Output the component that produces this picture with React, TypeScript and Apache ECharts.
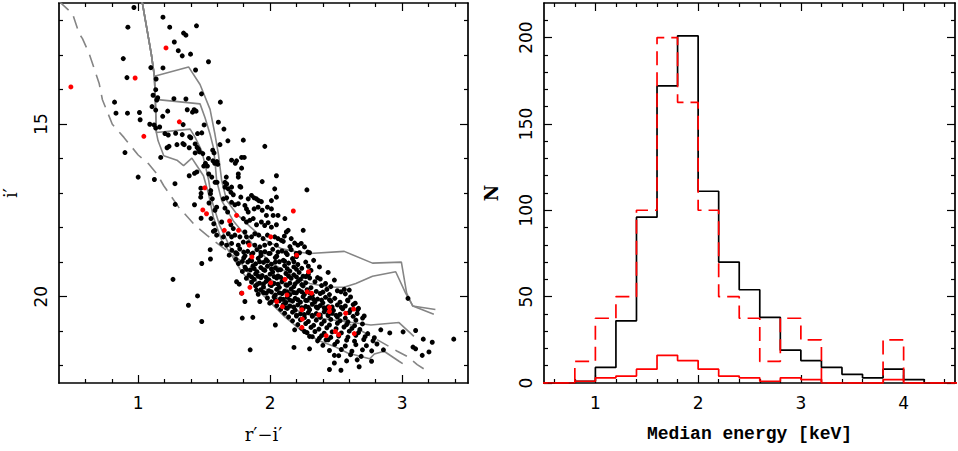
import React, { useEffect, useRef } from "react";
import * as echarts from "echarts";

// ---------------- Left panel: colour–magnitude diagram (r'-i', i') ----------------
const blackStars: number[][] = [
  // bright / upper part
  [0.968, 11.63], [1.188, 11.91], [0.922, 12.2], [1.239, 12.2], [1.442, 12.16], [1.344, 12.37], [1.362, 12.43], [1.274, 12.63],
  [1.304, 12.88], [1.334, 13.03], [1.397, 12.98], [0.887, 13.11], [1.533, 13.2], [1.096, 13.37], [1.188, 13.38], [1.435, 13.44],
  [0.915, 13.66], [1.136, 13.7], [1.133, 14.01], [1.113, 14.17], [1.148, 14.24], [1.141, 14.31], [1.48, 14.13], [1.271, 14.27],
  [1.362, 14.28], [0.821, 14.37], [1.623, 14.37], [1.105, 14.5], [1.133, 14.6], [1.224, 14.63], [1.372, 14.59], [1.424, 14.59],
  [1.439, 14.63], [1.412, 14.66], [0.832, 14.69], [0.919, 14.69], [1.01, 14.67], [1.186, 14.78], [1.015, 14.88], [1.088, 15.01],
  [1.121, 15.03], [1.133, 15.12], [1.163, 15.09], [1.341, 15.02], [1.5, 15.03], [1.608, 14.95], [1.65, 15.15], [1.203, 15.28],
  [1.228, 15.32], [1.284, 15.27], [1.334, 15.31], [1.39, 15.37], [1.399, 15.4], [1.45, 15.28], [1.482, 15.26], [1.68, 15.49],
  [1.797, 15.47], [1.96, 15.65], [1.294, 15.6], [1.339, 15.57], [1.349, 15.6], [1.387, 15.69], [1.432, 15.58], [1.447, 15.68],
  [1.457, 15.73], [1.219, 15.69], [1.234, 15.65], [1.62, 15.6], [0.9, 15.83], [1.432, 15.84], [1.465, 15.81], [1.49, 15.86],
  [1.565, 15.76], [1.575, 15.84], [1.171, 15.97], [1.533, 16.0], [1.51, 16.14], [1.497, 16.22], [1.525, 16.22], [1.567, 16.07],
  [1.58, 16.14], [1.597, 16.09], [1.603, 16.17], [1.708, 16.05], [1.746, 16.07], [1.736, 16.14], [1.784, 15.97], [1.804, 15.97],
  [1.784, 16.28], [1.445, 16.39], [1.427, 16.43], [1.387, 16.5], [1.0, 16.54], [1.123, 16.61], [1.535, 16.45], [1.558, 16.54],
  [1.583, 16.69], [1.598, 16.69], [1.668, 16.54], [1.658, 16.69], [1.671, 16.74], [1.759, 16.45], [1.759, 16.54], [1.771, 16.81],
  [1.94, 16.67], [2.048, 16.5], [2.035, 16.88], [1.279, 16.73], [1.475, 16.86], [1.477, 17.01], [1.55, 16.93], [1.548, 17.02],
  [2.279, 16.91],
  // upper main sequence
  [1.474, 17.12], [1.562, 17.17], [1.658, 16.83], [1.683, 16.88], [1.708, 16.83], [1.703, 16.98], [1.721, 17.05], [1.646, 17.17],
  [1.671, 17.14], [1.778, 16.83], [1.778, 17.12], [1.834, 17.17], [1.859, 17.07], [1.879, 17.14], [1.897, 17.17], [1.914, 17.22],
  [1.934, 17.25], [1.427, 17.34], [1.537, 17.29], [1.708, 17.27], [1.733, 17.34], [1.759, 17.31], [2.01, 17.22], [2.048, 17.12],
  [1.595, 17.41], [1.582, 17.5], [1.658, 17.44], [1.678, 17.55], [1.809, 17.36], [1.821, 17.46], [1.834, 17.55], [1.879, 17.46],
  [1.909, 17.41], [1.94, 17.5], [1.98, 17.41], [2.01, 17.46], [1.972, 17.65], [2.023, 17.65], [2.06, 17.65], [1.477, 17.73],
  [1.552, 17.74], [1.573, 17.89], [1.633, 17.84], [1.703, 17.92], [1.721, 18.03], [1.797, 17.74], [1.821, 17.84], [1.846, 17.79],
  [1.872, 17.74], [1.897, 17.92], [1.934, 17.84], [1.959, 17.94], [1.985, 17.86], [2.01, 17.99], [2.048, 17.92], [1.582, 18.08],
  [1.595, 18.22], [1.646, 18.27], [1.683, 18.18], [1.708, 18.27], [1.733, 18.22], [1.771, 18.27], [1.809, 18.13], [1.821, 18.27],
  [1.859, 18.27], [1.884, 18.18], [1.914, 18.22], [1.947, 18.32], [1.98, 18.22], [2.035, 18.27], [2.06, 18.32], [1.633, 18.46],
  [1.671, 18.51], [1.708, 18.46], [1.759, 18.51], [1.797, 18.42], [1.834, 18.44], [1.884, 18.51], [1.922, 18.56], [1.959, 18.51],
  [1.997, 18.46], [2.048, 18.51],
  [2.112, 17.74], [2.137, 18.08], [2.251, 18.08], [2.16, 18.32], [2.085, 18.37], [2.108, 18.25], [2.123, 18.13], [2.186, 18.45],
  [2.211, 18.51], [2.236, 18.46], [2.261, 18.56], [2.286, 18.71], [2.198, 18.75], [2.223, 18.73], [2.299, 18.73], [2.1, 18.4],
  [2.15, 18.55],
  // scattered stars off the sequence
  [1.281, 17.33], [1.57, 18.11], [1.546, 18.64], [1.548, 18.91], [1.482, 19.04], [1.264, 19.5], [1.45, 19.98], [1.381, 20.25],
  [1.482, 20.72], [1.849, 21.54], [1.789, 20.62], [1.869, 20.6], [2.04, 20.82], [2.181, 21.47], [2.299, 21.51], [1.746, 19.57],
  [1.766, 19.64], [1.784, 19.9], [1.809, 20.14], [1.897, 19.81], [1.922, 20.14], [1.997, 20.19],
  [2.45, 22.11], [2.537, 22.13], [2.487, 21.92], [2.675, 22.03], [2.487, 21.7], [2.186, 20.96], [2.261, 21.01], [2.299, 21.15],
  [2.374, 21.2], [2.424, 21.25],
  [2.839, 20.96], [2.907, 21.05], [3.008, 21.02], [3.103, 20.98], [3.083, 21.46], [3.103, 21.51], [3.161, 21.23], [3.229, 21.32],
  [3.392, 21.23], [3.153, 21.7], [3.204, 21.6], [2.859, 21.54], [2.769, 21.87], [3.045, 20.05],
  [2.374, 19.14], [2.487, 19.52], [2.537, 19.86], [2.562, 19.79], [2.6, 19.81], [2.587, 20.1], [2.645, 20.19], [2.663, 20.38],
  [2.701, 20.62], [2.713, 20.56], [2.33, 18.95], [2.29, 19.12], [2.44, 19.3], [2.36, 19.45],
  // dense lower main sequence
  [1.71, 18.66], [1.77, 18.62], [1.83, 18.69], [1.9, 18.64], [1.96, 18.7], [2.02, 18.63], [2.09, 18.68], [2.16, 18.64],
  [1.69, 18.8], [1.75, 18.76], [1.81, 18.82], [1.86, 18.77], [1.93, 18.81], [2.0, 18.75], [2.05, 18.83], [2.13, 18.78], [2.2, 18.84],
  [1.74, 18.92], [1.8, 18.88], [1.85, 18.94], [1.91, 18.89], [1.97, 18.93], [2.04, 18.87], [2.1, 18.95], [2.17, 18.9],
  [1.76, 19.04], [1.83, 19.0], [1.89, 19.05], [1.95, 19.01], [2.01, 19.06], [2.07, 18.99], [2.14, 19.03], [2.21, 19.07], [2.27, 19.0],
  [1.81, 19.15], [1.87, 19.11], [1.93, 19.16], [1.98, 19.12], [2.04, 19.17], [2.11, 19.1], [2.18, 19.14], [2.24, 19.18],
  [1.79, 19.27], [1.85, 19.23], [1.9, 19.28], [1.96, 19.24], [2.02, 19.29], [2.08, 19.22], [2.15, 19.26], [2.22, 19.3], [2.31, 19.24],
  [1.84, 19.38], [1.89, 19.34], [1.94, 19.39], [2.0, 19.35], [2.06, 19.4], [2.12, 19.33], [2.18, 19.37], [2.25, 19.41], [2.29, 19.35],
  [1.82, 19.47], [1.88, 19.5], [1.93, 19.45], [1.99, 19.51], [2.05, 19.46], [2.1, 19.52], [2.16, 19.47], [2.23, 19.5], [2.3, 19.46], [2.38, 19.49],
  [1.86, 19.58], [1.92, 19.61], [1.97, 19.56], [2.03, 19.62], [2.09, 19.57], [2.15, 19.61], [2.21, 19.56], [2.27, 19.6], [2.34, 19.57], [2.42, 19.62],
  [1.89, 19.69], [1.95, 19.72], [2.01, 19.68], [2.07, 19.73], [2.13, 19.67], [2.18, 19.71], [2.25, 19.69], [2.31, 19.74], [2.39, 19.68], [2.46, 19.71],
  [1.93, 19.8], [1.99, 19.83], [2.05, 19.79], [2.11, 19.84], [2.16, 19.78], [2.22, 19.82], [2.28, 19.8], [2.35, 19.85], [2.43, 19.79], [2.51, 19.83],
  [1.91, 19.93], [1.97, 19.9], [2.04, 19.95], [2.09, 19.91], [2.15, 19.94], [2.2, 19.89], [2.26, 19.93], [2.32, 19.96], [2.38, 19.91], [2.45, 19.94], [2.57, 19.92],
  [1.98, 20.04], [2.03, 20.01], [2.08, 20.06], [2.13, 20.02], [2.19, 20.05], [2.25, 20.0], [2.3, 20.04], [2.36, 20.07], [2.42, 20.02], [2.49, 20.05], [2.61, 20.01],
  [2.01, 20.15], [2.07, 20.12], [2.12, 20.17], [2.17, 20.13], [2.23, 20.16], [2.28, 20.11], [2.34, 20.15], [2.4, 20.18], [2.46, 20.13], [2.53, 20.16], [2.59, 20.12],
  [2.05, 20.26], [2.1, 20.23], [2.15, 20.27], [2.21, 20.24], [2.27, 20.28], [2.32, 20.22], [2.38, 20.26], [2.44, 20.29], [2.51, 20.24], [2.57, 20.27], [2.63, 20.23],
  [2.08, 20.37], [2.13, 20.34], [2.19, 20.39], [2.25, 20.35], [2.3, 20.38], [2.36, 20.33], [2.42, 20.37], [2.48, 20.4], [2.55, 20.35], [2.61, 20.38], [2.67, 20.34],
  [2.11, 20.48], [2.17, 20.45], [2.23, 20.5], [2.29, 20.46], [2.35, 20.49], [2.41, 20.44], [2.47, 20.48], [2.53, 20.51], [2.6, 20.46], [2.66, 20.49],
  [2.14, 20.59], [2.2, 20.56], [2.26, 20.61], [2.32, 20.57], [2.38, 20.6], [2.44, 20.55], [2.51, 20.59], [2.57, 20.62], [2.63, 20.57],
  [2.17, 20.7], [2.23, 20.67], [2.29, 20.72], [2.35, 20.68], [2.41, 20.71], [2.46, 20.66], [2.53, 20.7], [2.59, 20.73], [2.65, 20.68],
  [2.21, 20.81], [2.27, 20.78], [2.33, 20.83], [2.39, 20.79], [2.45, 20.82], [2.51, 20.77], [2.58, 20.81], [2.64, 20.84], [2.7, 20.79],
  [2.24, 20.92], [2.31, 20.89], [2.37, 20.94], [2.43, 20.9], [2.5, 20.93], [2.56, 20.88], [2.62, 20.92], [2.68, 20.95],
  [2.28, 21.04], [2.34, 21.01], [2.41, 21.06], [2.47, 21.02], [2.54, 21.05], [2.6, 21.0], [2.67, 21.04], [2.74, 21.07],
  [2.32, 21.16], [2.39, 21.13], [2.46, 21.18], [2.52, 21.14], [2.59, 21.17], [2.65, 21.12], [2.72, 21.16], [2.79, 21.19],
  [2.36, 21.28], [2.44, 21.25], [2.51, 21.3], [2.58, 21.26], [2.64, 21.29], [2.71, 21.24], [2.78, 21.28],
  [2.4, 21.41], [2.49, 21.38], [2.57, 21.43], [2.65, 21.39], [2.73, 21.42], [2.81, 21.37],
  [2.45, 21.56], [2.54, 21.53], [2.62, 21.58], [2.7, 21.54], [2.77, 21.57],
  [2.52, 21.71], [2.61, 21.68], [2.69, 21.73], [2.58, 21.86], [2.66, 21.83],
  // densest core, in between the rows above
  [1.74, 18.73], [1.8, 18.71], [1.87, 18.74], [1.93, 18.72], [1.99, 18.75], [2.06, 18.71], [2.12, 18.73],
  [1.79, 18.98], [1.86, 18.96], [1.92, 18.99], [1.98, 18.97], [2.04, 19.0], [2.11, 18.97], [2.18, 18.99],
  [1.82, 19.21], [1.88, 19.19], [1.95, 19.22], [2.01, 19.2], [2.06, 19.23], [2.13, 19.19], [2.2, 19.21],
  [1.86, 19.43], [1.91, 19.41], [1.97, 19.44], [2.03, 19.42], [2.08, 19.44], [2.14, 19.41], [2.2, 19.43], [2.27, 19.42],
  [1.9, 19.65], [1.95, 19.63], [2.0, 19.66], [2.06, 19.64], [2.12, 19.66], [2.19, 19.63], [2.24, 19.65],
  [1.95, 19.88], [2.01, 19.86], [2.07, 19.89], [2.13, 19.87], [2.18, 19.88], [2.24, 19.86], [2.3, 19.89], [2.4, 19.87],
  [2.04, 20.1], [2.1, 20.08], [2.15, 20.1], [2.21, 20.09], [2.27, 20.11], [2.33, 20.08], [2.39, 20.1], [2.45, 20.09],
  [2.12, 20.32], [2.18, 20.3], [2.24, 20.32], [2.29, 20.31], [2.35, 20.3], [2.41, 20.32], [2.47, 20.3], [2.54, 20.31],
  [2.2, 20.54], [2.26, 20.52], [2.32, 20.54], [2.38, 20.53], [2.44, 20.52], [2.5, 20.54],
];

const redStars: number[][] = [
  [0.49, 13.93], [0.977, 13.67], [1.211, 12.8], [1.312, 14.94], [1.043, 15.36], [1.505, 16.85], [1.49, 17.49], [1.518, 17.6],
  [1.653, 18.08], [1.693, 17.81], [1.746, 17.65], [1.761, 18.08], [1.842, 18.51], [2.005, 18.27], [2.176, 17.52], [2.201, 18.8],
  [2.291, 19.28], [1.862, 18.85], [2.005, 19.6], [2.113, 19.5], [1.786, 19.9], [1.847, 19.73], [2.05, 20.14], [2.128, 19.95],
  [2.093, 20.29], [2.241, 20.38], [2.281, 19.86], [2.314, 19.9], [2.45, 20.31], [2.45, 20.43], [2.573, 20.48], [2.633, 20.36],
  [2.369, 20.53], [2.244, 20.65], [2.241, 20.89], [2.425, 21.13], [2.495, 21.01], [2.52, 21.1], [2.638, 21.07],
];

const isochroneA: number[][] = [
  [1.03, 11.46], [1.1, 12.99], [1.123, 13.62], [1.382, 13.35], [1.469, 13.86], [1.545, 14.58], [1.582, 15.3], [1.608, 15.87],
  [1.633, 16.64], [1.671, 17.22], [1.75, 17.62], [1.85, 17.98], [1.96, 18.35], [2.085, 18.61], [2.211, 18.71], [2.3, 18.75],
  [2.562, 18.69], [2.776, 19.03], [2.995, 19.0], [3.035, 19.9], [3.08, 20.27], [3.253, 20.37],
];
const isochroneB: number[][] = [
  [1.03, 11.46], [1.1, 12.99], [1.123, 13.62], [1.13, 14.29], [1.469, 14.42], [1.507, 14.82], [1.545, 15.3], [1.57, 15.68],
  [1.582, 16.07], [1.595, 16.64], [1.633, 17.22], [1.72, 17.8], [1.86, 18.45], [2.0, 19.0], [2.15, 19.35], [2.3, 19.62],
  [2.45, 19.72], [2.56, 19.73], [2.65, 19.62], [2.776, 19.41], [2.952, 19.28], [3.027, 19.9], [3.082, 20.27], [3.241, 20.51],
];
const isochroneC: number[][] = [
  [1.03, 11.46], [1.1, 12.99], [1.123, 13.62], [1.13, 14.29], [1.138, 15.25], [1.394, 15.15], [1.432, 15.39], [1.482, 15.78],
  [1.512, 16.26], [1.535, 16.64], [1.558, 17.22], [1.618, 17.94], [1.708, 18.66], [1.859, 19.43], [2.01, 19.91], [2.186, 20.38],
  [2.362, 20.62], [2.563, 20.72], [2.764, 20.82], [2.977, 20.75], [3.09, 21.15],
];
const isochroneD: number[][] = [
  [1.03, 11.46], [1.1, 12.99], [1.123, 13.62], [1.13, 14.29], [1.138, 15.25], [1.151, 15.49], [1.194, 15.92], [1.294, 16.05],
  [1.344, 16.21], [1.407, 15.99], [1.445, 16.21], [1.495, 16.5], [1.533, 17.02], [1.57, 17.7], [1.633, 18.37], [1.708, 18.8],
  [1.784, 19.28], [1.884, 19.71], [1.985, 20.1], [2.11, 20.58], [2.261, 21.06], [2.387, 21.3], [2.487, 21.44], [2.588, 21.63],
  [2.688, 21.73], [2.755, 21.8], [2.79, 21.66], [2.864, 21.58], [2.977, 21.87], [3.005, 21.94],
];
const zamsDashed: number[][] = [
  [0.4, 11.45], [0.503, 11.81], [0.553, 12.39], [0.578, 12.53], [0.628, 12.96], [0.704, 13.82], [0.729, 14.3], [0.804, 15.01],
  [0.892, 15.39], [1.0, 15.9], [1.08, 16.16], [1.143, 16.45], [1.194, 16.79], [1.307, 17.41], [1.432, 17.94], [1.52, 18.22],
  [1.733, 18.85], [1.934, 19.34], [2.136, 19.81], [2.362, 20.29], [2.588, 20.77], [2.814, 21.25], [2.964, 21.58], [3.04, 21.73],
  [3.115, 21.97], [3.215, 22.21],
];

const cmdXMajor = [1, 2, 3];
const cmdXMinor = [0.6, 0.8, 1.2, 1.4, 1.6, 1.8, 2.2, 2.4, 2.6, 2.8, 3.2, 3.4];
const cmdYMajor = [15, 20];
const cmdYMinor = [12, 13, 14, 16, 17, 18, 19, 21, 22];

// ---------------- Right panel: median energy histograms ----------------
const binEdges = [0.4, 0.6, 0.8, 1.0, 1.2, 1.4, 1.6, 1.8, 2.0, 2.2, 2.4, 2.6, 2.8, 3.0, 3.2, 3.4, 3.6, 3.8, 4.0, 4.2, 4.4, 4.6];
const countsAll = [0, 0, 1, 9, 36, 96, 172, 201, 111, 70, 54, 38, 19, 13, 9, 5, 3, 8, 2, 0, 0];
const countsRedScaled = [0, 0, 12.5, 37.5, 50, 100, 200, 162.5, 100, 50, 37.5, 12.5, 37.5, 25, 0, 0, 0, 25, 0, 0, 0];
const countsRed = [0, 0, 1, 3, 4, 8, 16, 13, 8, 4, 3, 1, 3, 2, 0, 0, 0, 2, 0, 0, 0];

const histXMajor = [1, 2, 3, 4];
const histXMinor = [0.6, 0.8, 1.2, 1.4, 1.6, 1.8, 2.2, 2.4, 2.6, 2.8, 3.2, 3.4, 3.6, 3.8, 4.2, 4.4];
const histYMajor = [0, 50, 100, 150, 200];
const histYMinor = [10, 20, 30, 40, 60, 70, 80, 90, 110, 120, 130, 140, 160, 170, 180, 190, 210];

const stepPoints = (counts: number[]) =>
  counts.flatMap((c, i) => [[binEdges[i], c], [binEdges[i + 1], c]]);

const TICK_FONT = "DejaVu Sans";
const NAME_FONT = "DejaVu Serif";

function frameAxes(
  dim: "x" | "y",
  gridIndex: number,
  min: number,
  max: number,
  major: number[],
  minor: number[],
  inverse: boolean,
  labelMargin: number,
  name: string,
  nameGap: number,
  nameStyle: any
) {
  const lo = dim === "x" ? "bottom" : "left";
  const hi = dim === "x" ? "top" : "right";
  const base = { type: "value", gridIndex, min, max, inverse, splitLine: { show: false } };
  const line = { show: true, onZero: false, lineStyle: { color: "#000", width: 1.7 } };
  const noLine = { show: false, onZero: false };
  const tick = (vals: number[], len: number) => ({
    show: true,
    inside: true,
    length: len,
    customValues: vals,
    lineStyle: { color: "#000", width: 1.2 },
  });
  return [
    {
      ...base,
      position: lo,
      axisLine: line,
      axisTick: tick(major, 8),
      axisLabel: {
        show: true,
        customValues: major,
        color: "#000",
        fontFamily: TICK_FONT,
        fontSize: 17,
        margin: labelMargin,
        rotate: dim === "y" ? 90 : 0,
      },
      name,
      nameLocation: "middle",
      nameGap,
      nameRotate: dim === "y" ? 90 : 0,
      nameTextStyle: nameStyle,
    },
    { ...base, position: lo, axisLine: noLine, axisTick: tick(minor, 4), axisLabel: { show: false } },
    { ...base, position: hi, axisLine: line, axisTick: tick(major, 8), axisLabel: { show: false } },
    { ...base, position: hi, axisLine: noLine, axisTick: tick(minor, 4), axisLabel: { show: false } },
  ];
}

export default function App() {
  const ref = useRef<HTMLDivElement>(null);

  useEffect(() => {
    if (!ref.current) return;
    const chart = echarts.init(ref.current, undefined, { renderer: "svg" });
    const gray = "#858585";
    const isoStyle = { color: gray, width: 1.6 };

    const option: any = {
      animation: false,
      backgroundColor: "#fff",
      grid: [
        { left: 57, top: 3, width: 411, height: 380 },
        { left: 544, top: 3, width: 411, height: 380 },
      ],
      xAxis: [
        ...frameAxes("x", 0, 0.4, 3.5, cmdXMajor, cmdXMinor, false, 11, "r\u2032\u2212i\u2032", 42, {
          color: "#000", fontFamily: NAME_FONT, fontSize: 18,
        }),
        ...frameAxes("x", 1, 0.5, 4.5, histXMajor, histXMinor, false, 11, "Median energy [keV]", 42, {
          color: "#000", fontFamily: "Liberation Mono", fontSize: 18, fontWeight: "bold",
        }),
      ],
      yAxis: [
        ...frameAxes("y", 0, 11.5, 22.5, cmdYMajor, cmdYMinor, true, 10, "i\u2032", 40, {
          color: "#000", fontFamily: NAME_FONT, fontSize: 18,
        }),
        ...frameAxes("y", 1, 0, 220, histYMajor, histYMinor, false, 10, "N", 44, {
          color: "#000", fontFamily: NAME_FONT, fontSize: 18, fontWeight: "bold",
        }),
      ],
      series: [
        ...[isochroneA, isochroneB, isochroneC, isochroneD].map((d) => ({
          type: "line",
          xAxisIndex: 0,
          yAxisIndex: 0,
          data: d,
          showSymbol: false,
          symbol: "none",
          lineStyle: isoStyle,
          silent: true,
          z: 1,
        })),
        {
          type: "line",
          xAxisIndex: 0,
          yAxisIndex: 0,
          data: zamsDashed,
          symbol: "none",
          lineStyle: { color: gray, width: 1.6, type: [13, 8] },
          silent: true,
          z: 1,
        },
        {
          type: "scatter",
          xAxisIndex: 0,
          yAxisIndex: 0,
          data: blackStars,
          symbolSize: 5,
          itemStyle: { color: "#000", opacity: 1 },
          silent: true,
          z: 3,
        },
        {
          type: "scatter",
          xAxisIndex: 0,
          yAxisIndex: 0,
          data: redStars,
          symbolSize: 5,
          itemStyle: { color: "#ff0000", opacity: 1 },
          silent: true,
          z: 4,
        },
        {
          type: "line",
          xAxisIndex: 4,
          yAxisIndex: 4,
          data: stepPoints(countsAll),
          symbol: "none",
          lineStyle: { color: "#000", width: 1.7 },
          silent: true,
          z: 2,
        },
        {
          type: "line",
          xAxisIndex: 4,
          yAxisIndex: 4,
          data: stepPoints(countsRedScaled),
          symbol: "none",
          lineStyle: { color: "#ff0000", width: 1.7, type: [14, 7] },
          silent: true,
          z: 3,
        },
        {
          type: "line",
          xAxisIndex: 4,
          yAxisIndex: 4,
          data: stepPoints(countsRed),
          symbol: "none",
          lineStyle: { color: "#ff0000", width: 1.7 },
          silent: true,
          z: 4,
        },
      ],
    };
    chart.setOption(option);
    return () => chart.dispose();
  }, []);

  return (
    <div
      ref={ref}
      style={{ position: "fixed", left: 0, top: 0, width: 958, height: 451, background: "#fff" }}
    />
  );
}
